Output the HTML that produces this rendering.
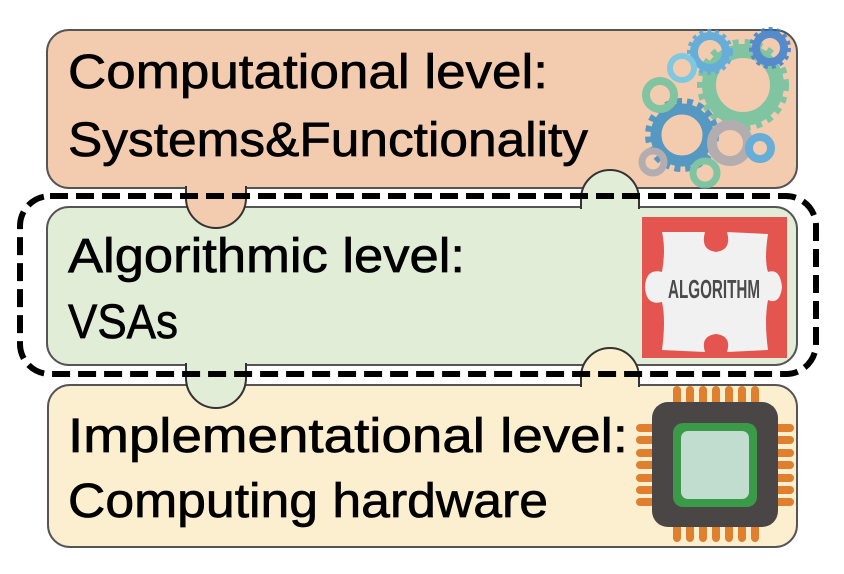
<!DOCTYPE html>
<html><head><meta charset="utf-8"><style>
html,body{margin:0;padding:0;background:#fff;}
svg{display:block;}
text{font-family:"Liberation Sans",sans-serif;fill:#000;}
.t{stroke:#000;stroke-width:0.7;}
</style></head><body>
<svg width="844" height="574" viewBox="0 0 844 574" xmlns="http://www.w3.org/2000/svg">
<rect x="47" y="30" width="750" height="158" rx="22" fill="#f3ccb0" stroke="#555" stroke-width="2"/>
<rect x="48" y="385" width="749" height="162" rx="22" fill="#fcefcf" stroke="#555" stroke-width="2"/>
<rect x="47" y="207" width="750" height="158" rx="22" fill="#e2edd8" stroke="#555" stroke-width="2"/>
<path d="M186 186 L186 198 A30 30 0 0 0 246 198 L246 186" fill="#f3ccb0" stroke="#333" stroke-width="2"/>
<path d="M581 209 L581 199 A29 29 0 0 1 639 199 L639 209" fill="#e2edd8" stroke="#333" stroke-width="2"/>
<path d="M186 363 L186 378 A30 30 0 0 0 246 378 L246 363" fill="#e2edd8" stroke="#333" stroke-width="2"/>
<path d="M581 387 L581 377 A29 29 0 0 1 639 377 L639 387" fill="#fcefcf" stroke="#333" stroke-width="2"/>
<rect x="20" y="196" width="796" height="178" rx="30" fill="none" stroke="#000" stroke-width="6" stroke-dasharray="18 8"/>

<text class="t" x="68" y="88" font-size="48" textLength="480" lengthAdjust="spacingAndGlyphs">Computational level:</text>
<text class="t" x="68" y="156" font-size="48" textLength="520" lengthAdjust="spacingAndGlyphs">Systems&amp;Functionality</text>
<text class="t" x="68" y="272" font-size="48" textLength="397" lengthAdjust="spacingAndGlyphs">Algorithmic level:</text>
<text class="t" x="68" y="338" font-size="48" textLength="110" lengthAdjust="spacingAndGlyphs">VSAs</text>
<text class="t" x="68" y="452" font-size="48" textLength="560" lengthAdjust="spacingAndGlyphs">Implementational level:</text>
<text class="t" x="68" y="517" font-size="48" textLength="480" lengthAdjust="spacingAndGlyphs">Computing hardware</text>

<g fill="none" opacity="0.85">
<circle cx="743" cy="85" r="34" stroke="#6cc3a0" stroke-width="14"/>
<circle cx="743" cy="85" r="43" stroke="#6cc3a0" stroke-width="6" stroke-dasharray="6 6"/>
<circle cx="682" cy="135" r="26" stroke="#3a8fc4" stroke-width="11"/>
<circle cx="682" cy="135" r="34" stroke="#3a8fc4" stroke-width="6" stroke-dasharray="6 5"/>
<circle cx="770" cy="48" r="14" stroke="#3a7fd0" stroke-width="8"/>
<circle cx="770" cy="48" r="19" stroke="#3a7fd0" stroke-width="4" stroke-dasharray="4 4"/>
<circle cx="710" cy="52" r="16" stroke="#4ea8e0" stroke-width="8"/>
<circle cx="710" cy="52" r="21" stroke="#4ea8e0" stroke-width="4" stroke-dasharray="4 4"/>
<circle cx="682" cy="68" r="12" stroke="#6cc8e8" stroke-width="6"/>
<circle cx="660" cy="95" r="14" stroke="#6cc3a0" stroke-width="8"/>
<circle cx="730" cy="143" r="18" stroke="#a8a8b0" stroke-width="10"/>
<circle cx="760" cy="148" r="11" stroke="#4ea8e0" stroke-width="8"/>
<circle cx="653" cy="162" r="11" stroke="#a8a8b0" stroke-width="7"/>
<circle cx="705" cy="173" r="12" stroke="#6cc3a0" stroke-width="7"/>
</g>

<rect x="642" y="217" width="145" height="141" fill="#e4554f"/>
<path d="M662 232 L705 232 Q700 250 716 252 Q732 250 727 232 L768 234 Q764 260 768 272 Q780 268 782 287 Q780 305 768 300 Q764 320 768 350 L727 352 Q732 336 716 334 Q700 336 705 352 L662 350 Q666 320 662 302 Q646 306 645 287 Q646 268 662 272 Q666 250 662 232 Z" fill="#f1f1f1"/>
<text x="714" y="298" font-size="26" font-weight="bold" text-anchor="middle" textLength="92" lengthAdjust="spacingAndGlyphs" style="fill:#4a4a4a">ALGORITHM</text>

<g fill="#e07f2e">
<rect x="673" y="386" width="8" height="22" rx="4"/><rect x="686" y="386" width="8" height="22" rx="4"/><rect x="699" y="386" width="8" height="22" rx="4"/><rect x="712" y="386" width="8" height="22" rx="4"/><rect x="725" y="386" width="8" height="22" rx="4"/><rect x="738" y="386" width="8" height="22" rx="4"/><rect x="751" y="386" width="8" height="22" rx="4"/>
<rect x="673" y="520" width="8" height="22" rx="4"/><rect x="686" y="520" width="8" height="22" rx="4"/><rect x="699" y="520" width="8" height="22" rx="4"/><rect x="712" y="520" width="8" height="22" rx="4"/><rect x="725" y="520" width="8" height="22" rx="4"/><rect x="738" y="520" width="8" height="22" rx="4"/><rect x="751" y="520" width="8" height="22" rx="4"/>
<rect x="636" y="424" width="22" height="8" rx="4"/><rect x="636" y="436" width="22" height="8" rx="4"/><rect x="636" y="449" width="22" height="8" rx="4"/><rect x="636" y="461" width="22" height="8" rx="4"/><rect x="636" y="474" width="22" height="8" rx="4"/><rect x="636" y="486" width="22" height="8" rx="4"/><rect x="636" y="498" width="22" height="8" rx="4"/>
<rect x="772" y="424" width="22" height="8" rx="4"/><rect x="772" y="436" width="22" height="8" rx="4"/><rect x="772" y="449" width="22" height="8" rx="4"/><rect x="772" y="461" width="22" height="8" rx="4"/><rect x="772" y="474" width="22" height="8" rx="4"/><rect x="772" y="486" width="22" height="8" rx="4"/><rect x="772" y="498" width="22" height="8" rx="4"/>
</g>
<rect x="652" y="402" width="126" height="125" rx="16" fill="#4a4646"/>
<rect x="673" y="423" width="84" height="84" rx="10" fill="#3a9a48"/>
<rect x="681" y="431" width="68" height="68" rx="7" fill="#c0ddd0"/>
</svg>
</body></html>
